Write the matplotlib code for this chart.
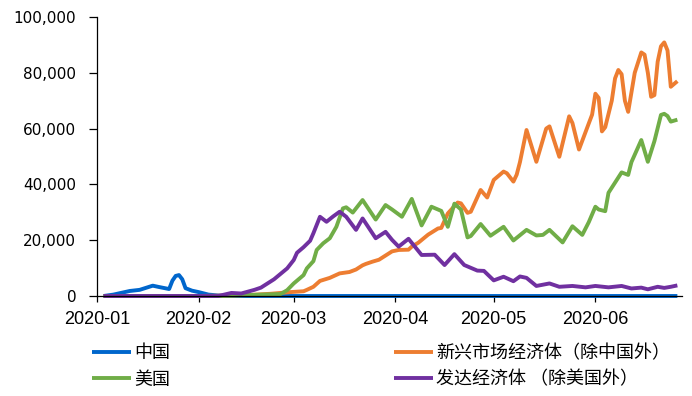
import matplotlib

matplotlib.use("Agg")
import matplotlib.dates as mdates
import matplotlib.pyplot as plt
import pandas as pd
from matplotlib.ticker import MultipleLocator, StrMethodFormatter

# days counted from 2020-01-01
cn_days = [2, 5, 10, 13, 17, 19, 22, 23, 24, 25, 26, 27, 29, 31, 34, 37, 40, 177]
cn_vals = [0, 500, 1800, 2200, 3700, 3200, 2500, 5500, 7200, 7500, 6000, 2800, 1900, 1400, 500, 200, 0, 0]

em_days = [2, 31, 41, 47, 53, 59, 63, 64, 66, 68, 71, 74, 77, 79, 81, 82, 84, 86, 88, 90,
           92, 95, 96, 98, 101, 104, 105, 107, 110, 111, 113, 114, 117, 119, 121, 124, 125,
           127, 128, 129, 131, 134, 137, 138, 141, 144, 145, 147, 150, 151, 152, 153, 154,
           155, 157, 158, 159, 160, 161, 162, 164, 166, 167, 168, 169, 170, 171, 172, 173,
           174, 175, 177]
em_vals = [0, 0, 200, 400, 800, 1400, 1700, 2200, 3300, 5400, 6500, 8100, 8600, 9500, 11000,
           11500, 12300, 13000, 14500, 16000, 16500, 16600, 17700, 19100, 22000, 24200, 24400,
           29600, 33500, 33200, 29800, 30200, 38000, 35300, 41600, 44600, 44000, 41000, 43500,
           48000, 59500, 48100, 60000, 60800, 49900, 64400, 62000, 52500, 61900, 65000, 72500,
           71000, 59000, 60500, 70000, 78000, 81000, 79500, 70000, 66000, 80000, 87300, 86500,
           80000, 71400, 72000, 84000, 89500, 90900, 88000, 75000, 77000]

us_days = [2, 38, 50, 56, 58, 60, 63, 64, 66, 67, 69, 71, 73, 75, 76, 78, 81, 85, 88, 90, 93,
           96, 99, 102, 105, 107, 109, 111, 113, 114, 117, 120, 124, 127, 131, 134, 136, 138,
           142, 145, 148, 150, 152, 153, 155, 156, 160, 162, 163, 166, 168, 170, 172, 173,
           174, 175, 177]
us_vals = [0, 0, 500, 700, 2100, 4500, 7500, 9900, 12500, 16500, 18900, 20700, 24800, 31400,
           31800, 29900, 34400, 27400, 32600, 31000, 28400, 34800, 25300, 32000, 30500, 24800,
           33100, 31000, 21000, 21500, 25800, 21600, 24800, 19900, 23700, 21700, 21900, 23700,
           19200, 25000, 21900, 26500, 32000, 31000, 30400, 37000, 44300, 43400, 48000, 55900,
           48100, 55500, 64900, 65300, 64500, 62500, 63200]

dm_days = [2, 37, 41, 44, 48, 50, 54, 58, 60, 61, 63, 65, 66, 68, 70, 72, 74, 76, 79, 81, 85,
           88, 90, 92, 95, 99, 103, 106, 109, 112, 116, 118, 121, 124, 127, 129, 131, 134, 138,
           141, 145, 149, 152, 156, 160, 163, 166, 168, 171, 173, 175, 177]
dm_vals = [0, 0, 1100, 900, 2200, 3000, 6000, 9900, 12900, 15500, 17500, 19800, 22500, 28400,
           26600, 28500, 30200, 28400, 23700, 27800, 20700, 23000, 20100, 17700, 20500, 14700,
           14800, 11100, 15000, 11100, 9100, 9000, 5600, 6900, 5300, 7000, 6500, 3600, 4500,
           3300, 3600, 3100, 3600, 3100, 3600, 2700, 3000, 2400, 3300, 2900, 3300, 3800]

series_names = ["中国", "新兴市场经济体（除中国外）", "美国", "发达经济体 （除美国外）"]
series_colors = ["#0066CC", "#ED7D31", "#70AD47", "#7030A0"]

START = pd.Timestamp("2020-01-01")


def to_dates(days):
    return START + pd.to_timedelta(days, unit="D")


fig = plt.figure(figsize=(6.92, 3.96), dpi=100)
ax = fig.add_axes([97 / 692, 1 - 296 / 396, 585 / 692, 279 / 396])

handles = []
for days, vals, name, color in zip(
    [cn_days, em_days, us_days, dm_days],
    [cn_vals, em_vals, us_vals, dm_vals],
    series_names,
    series_colors,
):
    (ln,) = ax.plot(to_dates(days), vals, color=color, lw=2.8, label=name,
                    solid_joinstyle="round", solid_capstyle="butt", clip_on=False)
    handles.append(ln)

ax.set_xlim(START, pd.Timestamp("2020-06-27 10:00"))
ax.set_ylim(0, 100000)
ax.yaxis.set_major_locator(MultipleLocator(20000))
ax.yaxis.set_major_formatter(StrMethodFormatter("{x:,.0f}"))
ax.xaxis.set_major_locator(mdates.MonthLocator())
ax.xaxis.set_major_formatter(mdates.DateFormatter("%Y-%m"))

for side in ("top", "right"):
    ax.spines[side].set_visible(False)
for side in ("left", "bottom"):
    ax.spines[side].set_linewidth(0.9)
    ax.spines[side].set_color("black")

ax.tick_params(axis="y", direction="out", length=6, width=0.9, pad=9, labelsize=11)
ax.tick_params(axis="x", direction="out", length=4.5, width=0.9, pad=6)
for lab in ax.get_yticklabels():
    lab.set_family("DejaVu Sans")
for lab in ax.get_xticklabels():
    lab.set_family(["Liberation Sans", "DejaVu Sans"])
    lab.set_fontsize(13)

# legend: two columns under the plot
order = [0, 2, 1, 3]
fig.legend([handles[i] for i in order], [series_names[i] for i in order],
           ncol=2, loc="upper left", bbox_to_anchor=(92 / 692, 1 - 344 / 396),
           frameon=False, prop={"family": ["Noto Sans CJK SC", "DejaVu Sans"], "size": 13},
           handlelength=2.16, handletextpad=0.17, columnspacing=12.4,
           labelspacing=0.48, borderpad=0, borderaxespad=0)

fig.savefig("out.png", dpi=100)
